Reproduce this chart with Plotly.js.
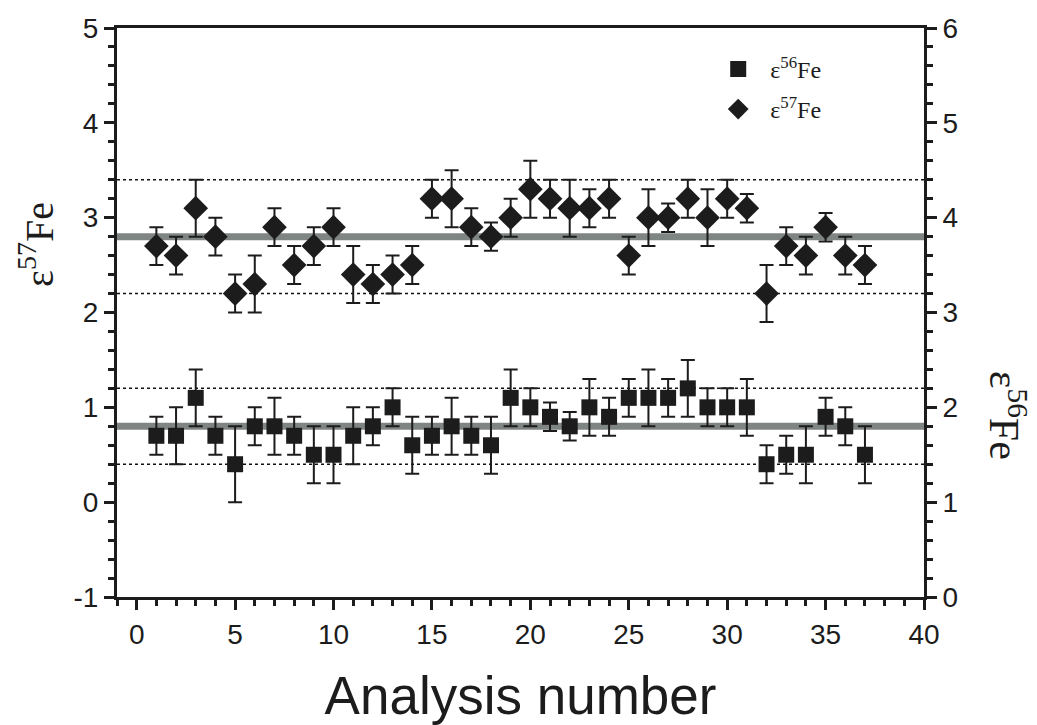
<!DOCTYPE html>
<html>
<head>
<meta charset="utf-8">
<script src="https://cdn.plot.ly/plotly-3.0.1.min.js"></script>
<style>html,body{margin:0;padding:0;background:#fff;}#chart{width:1037px;height:725px;}</style>
</head>
<body>
<div id="chart"></div>
<script>
const analysis = [1,2,3,4,5,6,7,8,9,10,11,12,13,14,15,16,17,18,19,20,21,22,23,24,25,26,27,28,29,30,31,32,33,34,35,36,37];
const e57 = [2.7,2.6,3.1,2.8,2.2,2.3,2.9,2.5,2.7,2.9,2.4,2.3,2.4,2.5,3.2,3.2,2.9,2.8,3.0,3.3,3.2,3.1,3.1,3.2,2.6,3.0,3.0,3.2,3.0,3.2,3.1,2.2,2.7,2.6,2.9,2.6,2.5];
const e57err = [0.2,0.2,0.3,0.2,0.2,0.3,0.2,0.2,0.2,0.2,0.3,0.2,0.2,0.2,0.2,0.3,0.2,0.15,0.2,0.3,0.2,0.3,0.2,0.2,0.2,0.3,0.15,0.2,0.3,0.2,0.15,0.3,0.2,0.2,0.15,0.2,0.2];
const e56 = [1.7,1.7,2.1,1.7,1.4,1.8,1.8,1.7,1.5,1.5,1.7,1.8,2.0,1.6,1.7,1.8,1.7,1.6,2.1,2.0,1.9,1.8,2.0,1.9,2.1,2.1,2.1,2.2,2.0,2.0,2.0,1.4,1.5,1.5,1.9,1.8,1.5];
const e56err = [0.2,0.3,0.3,0.2,0.4,0.2,0.3,0.2,0.3,0.3,0.3,0.2,0.2,0.3,0.2,0.3,0.2,0.3,0.3,0.2,0.15,0.15,0.3,0.2,0.2,0.3,0.2,0.3,0.2,0.2,0.3,0.2,0.2,0.3,0.2,0.2,0.3];
// reference lines: mean and +/- limits
const e57Mean = 2.8, e57Limits = [2.2, 3.4];
const e56Mean = 1.8, e56Limits = [1.4, 2.2];
// tick labels
const leftTickVals = [-1, 0, 1, 2, 3, 4, 5];
const leftTickText = ['-1', '0', '1', '2', '3', '4', '5'];
const rightTickVals = [0, 1, 2, 3, 4, 5, 6];
const rightTickText = ['0', '1', '2', '3', '4', '5', '6'];
const xTickVals = [0, 5, 10, 15, 20, 25, 30, 35, 40];
const xTickText = ['0', '5', '10', '15', '20', '25', '30', '35', '40'];

const ink = '#1c1c1c';
const serif = 'Liberation Serif, Times New Roman, serif';
const sans = 'Liberation Sans, Arial, sans-serif';

const traces = [
  {
    x: analysis, y: e56, yaxis: 'y2', type: 'scatter', mode: 'markers',
    name: '\u2002ε<sup>56</sup>Fe', legendgroup: 'a',
    marker: {symbol: 'square', size: 16, color: ink},
    error_y: {type: 'data', array: e56err, visible: true, color: ink, thickness: 2, width: 7}
  },
  {
    x: analysis, y: e57, yaxis: 'y', type: 'scatter', mode: 'markers',
    name: '\u2002ε<sup>57</sup>Fe', legendgroup: 'b',
    marker: {symbol: 'diamond', size: 19, color: ink},
    error_y: {type: 'data', array: e57err, visible: true, color: ink, thickness: 2, width: 7}
  }
];

const shapes = [];
function hline(y, yref, dash, width, color) {
  shapes.push({type: 'line', xref: 'paper', x0: 0, x1: 1, yref: yref, y0: y, y1: y,
    layer: 'below', line: {color: color, width: width, dash: dash}});
}
hline(e57Mean, 'y', 'solid', 7, '#7f8582');
e57Limits.forEach(v => hline(v, 'y', 'dot', 1.5, '#111'));
hline(e56Mean, 'y2', 'solid', 7, '#7f8582');
e56Limits.forEach(v => hline(v, 'y2', 'dot', 1.5, '#111'));

const axisCommon = {
  showgrid: false, zeroline: false, showline: true, linecolor: ink, linewidth: 3,
  ticks: 'outside', ticklen: 10, tickwidth: 3, tickcolor: ink,
  tickfont: {family: sans, size: 28, color: ink}
};

const layout = {
  width: 1037, height: 725,
  margin: {l: 117, r: 113, t: 28, b: 128},
  paper_bgcolor: '#fff', plot_bgcolor: '#fff',
  showlegend: true,
  legend: {x: 0.745, y: 0.967, xanchor: 'left', yanchor: 'top', bgcolor: 'rgba(0,0,0,0)',
    font: {family: serif, size: 24, color: ink}, itemsizing: 'trace', tracegroupgap: 6},
  xaxis: Object.assign({}, axisCommon, {
    range: [-1, 40], tickmode: 'array', tickvals: xTickVals, ticktext: xTickText, mirror: true,
    minor: {dtick: 1, tick0: 0, ticklen: 6, tickwidth: 3, tickcolor: ink, ticks: 'outside'},
    title: {text: 'Analysis number', font: {family: sans, size: 53, color: ink}, standoff: 30}
  }),
  yaxis: Object.assign({}, axisCommon, {
    range: [-1, 5], tickmode: 'array', tickvals: leftTickVals, ticktext: leftTickText,
    minor: {dtick: 0.2, tick0: 0, ticklen: 6, tickwidth: 3, tickcolor: ink, ticks: 'outside'}
  }),
  yaxis2: Object.assign({}, axisCommon, {
    range: [0, 6], tickmode: 'array', tickvals: rightTickVals, ticktext: rightTickText,
    overlaying: 'y', side: 'right',
    minor: {dtick: 0.2, tick0: 0, ticklen: 6, tickwidth: 3, tickcolor: ink, ticks: 'outside'}
  }),
  shapes: shapes,
  annotations: [
    {
      text: 'ε<sup>57</sup>Fe', xref: 'paper', yref: 'paper', x: -0.099, y: 0.619,
      xanchor: 'center', yanchor: 'middle', showarrow: false, textangle: -90,
      font: {family: serif, size: 40, color: ink}
    },
    {
      text: 'ε<sup>56</sup>Fe', xref: 'paper', yref: 'paper', x: 1.103, y: 0.32,
      xanchor: 'center', yanchor: 'middle', showarrow: false, textangle: 90,
      font: {family: serif, size: 42, color: ink}
    }
  ]
};

Plotly.newPlot('chart', traces, layout, {displayModeBar: false, staticPlot: true});
</script>
</body>
</html>
